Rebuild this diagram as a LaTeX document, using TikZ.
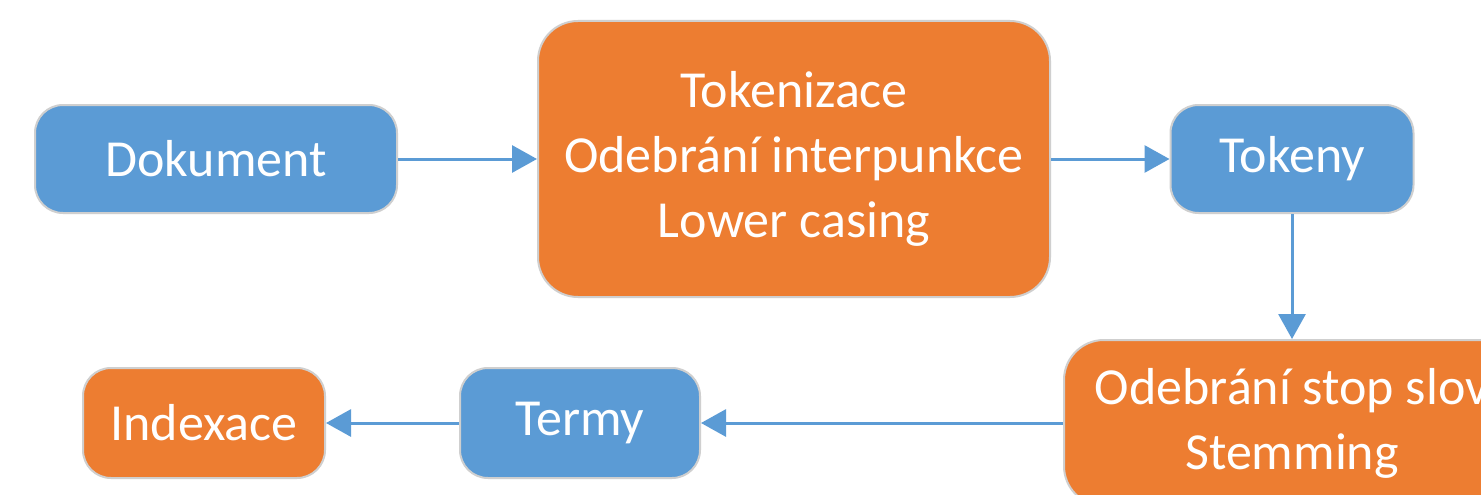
\documentclass[tikz,border=0pt]{standalone}
\usepackage{fontspec}
\setmainfont{Carlito}
\usetikzlibrary{arrows.meta}
\definecolor{bl}{HTML}{5B9BD5}
\definecolor{og}{HTML}{ED7D31}
\definecolor{edge}{HTML}{CFCFCF}
\begin{document}
\begin{tikzpicture}[x=1pt,y=-1pt,
  box/.style={draw=edge,line width=2pt,rounded corners=28pt,text=white,align=center,
    font=\fontsize{52}{65}\selectfont,inner sep=0pt},
  bbox/.style={box,fill=bl},
  obox/.style={box,fill=og},
  conn/.style={draw=bl,line width=3pt,-{Triangle[length=25pt,width=27pt]}}]
\useasboundingbox (0,0) rectangle (1481,495);
\fill[white] (0,0) rectangle (1481,495);
\clip (0,0) rectangle (1481,495);
\node[bbox,minimum width=362pt,minimum height=108pt] (dok) at (216,159) {Dokument};
\node[obox,rounded corners=40pt,minimum width=512pt,minimum height=276pt] (tok) at (794,159) {Tokenizace\\Odebrání interpunkce\\Lower casing};
\node[bbox,minimum width=243pt,minimum height=108pt] (tkn) at (1292,159) {Tokeny};
\node[obox,rounded corners=40pt,minimum width=456pt,minimum height=166pt] (stop) at (1292,423) {Odebrání stop slov\\Stemming};
\node[bbox,minimum width=240pt,minimum height=110pt] (term) at (580,423) {Termy};
\node[obox,minimum width=242pt,minimum height=110pt] (idx) at (204,423) {Indexace};
\draw[conn] (dok.east) -- (tok.west);
\draw[conn] (tok.east) -- (tkn.west);
\draw[conn] (tkn.south) -- (stop.north);
\draw[conn] (stop.west) -- (term.east);
\draw[conn] (term.west) -- (idx.east);
\end{tikzpicture}
\end{document}
